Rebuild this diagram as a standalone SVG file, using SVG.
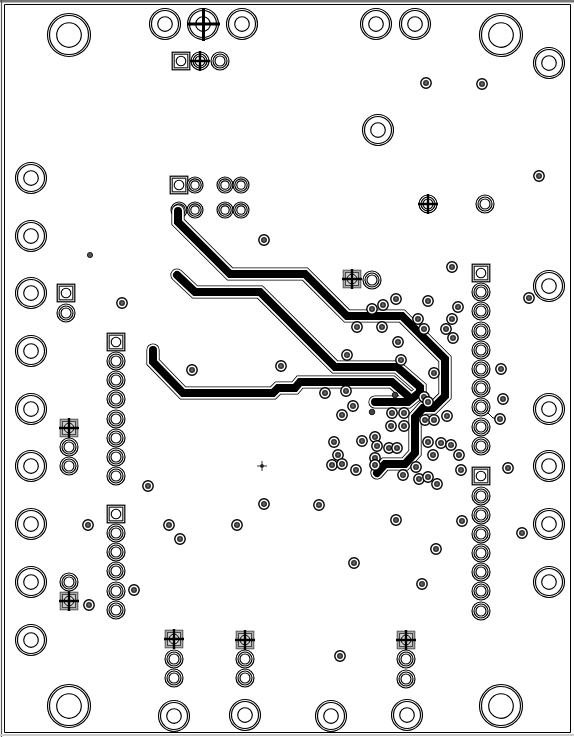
<svg xmlns="http://www.w3.org/2000/svg" xmlns:xlink="http://www.w3.org/1999/xlink" width="574" height="737" viewBox="0 0 574 737">
<style>
.r{fill:none;stroke:#000;stroke-width:1.15}
.t1{fill:none;stroke:#000;stroke-width:13.2;stroke-linejoin:miter;stroke-linecap:round}
.t2{fill:none;stroke:#fff;stroke-width:11.6;stroke-linejoin:miter;stroke-linecap:round}
.t3{fill:none;stroke:#000;stroke-width:8;stroke-linejoin:miter;stroke-linecap:round}
.c{fill:none;stroke:#000;stroke-width:2.4}
</style>
<defs>
<g id="L"><circle class="r" r="21.5"/><circle class="r" r="19.5"/><circle class="r" r="12.3"/></g>
<g id="M"><circle class="r" r="15.5"/><circle class="r" r="13.5"/><circle class="r" r="7.3"/></g>
<g id="P"><circle r="9" fill="#fff" stroke="#000" stroke-width="1.15"/><circle class="r" r="7"/><circle r="5" fill="#fff" stroke="#000" stroke-width="1.15"/></g>
<g id="Q"><circle r="8" fill="#fff" stroke="#000" stroke-width="1.15"/><circle class="r" r="6.2"/><circle r="4.2" fill="#fff" stroke="#000" stroke-width="1.15"/></g>
<g id="S"><rect x="-8.8" y="-8.8" width="17.6" height="17.6" fill="#fff" stroke="#000" stroke-width="1.2"/><rect x="-6.8" y="-6.8" width="13.6" height="13.6" fill="#fff" stroke="#222" stroke-width="1.2"/><circle r="4.8" fill="#fff" stroke="#000" stroke-width="1.1"/></g>
<g id="V"><circle r="5.2" fill="#fff" stroke="#000" stroke-width="1.4"/><circle r="3" fill="#333"/><circle r="1.4" fill="#666"/></g>
<g id="X"><rect x="-8.8" y="-8.8" width="17.6" height="17.6" fill="#aaa" stroke="#555" stroke-width="1"/><rect x="-6.5" y="-6.5" width="13" height="13" fill="#ccc" stroke="#444" stroke-width="1"/><circle r="4.8" fill="#ddd" stroke="#000" stroke-width="1"/><path class="c" d="M-10 0H10M0-10V10"/></g>
</defs>
<rect width="574" height="737" fill="#fff"/>
<g id="frame" fill="none"><path d="M0 1.2H574" stroke="#777" stroke-width="2.4"/><path d="M1.500 0V737" stroke="#555" stroke-width="1.200"/><path d="M4.500 4.500H570.500V732.500H4.500Z" stroke="#000" stroke-width="1"/><path d="M0 735H574" stroke="#ccc" stroke-width="2"/></g>
<use href="#Q" x="179" y="210"/>
<g id="connectors">
<path class="t1" d="M178 211V222L230 274H305L347 316H402L445 359V396L433 408H423L415 417V453L405 464H385L377 473"/>
<path class="t1" d="M177 275L195 292H260L335 367H397L420 387V392L408 402H375"/>
<path class="t1" d="M153 350V362L183 393H273L278 388H295L300 382H392L408 396"/>
<path class="t2" d="M178 211V222L230 274H305L347 316H402L445 359V396L433 408H423L415 417V453L405 464H385L377 473"/>
<path class="t2" d="M177 275L195 292H260L335 367H397L420 387V392L408 402H375"/>
<path class="t2" d="M153 350V362L183 393H273L278 388H295L300 382H392L408 396"/>
<path class="t3" d="M178 211V222L230 274H305L347 316H402L445 359V396L433 408H423L415 417V453L405 464H385L377 473"/>
<path class="t3" d="M177 275L195 292H260L335 367H397L420 387V392L408 402H375"/>
<path class="t3" d="M153 350V362L183 393H273L278 388H295L300 382H392L408 396"/>
<path d="M482 407L493 418H500" fill="none" stroke="#fff" stroke-width="3.4"/>
<path d="M482 407L493 418H500" fill="none" stroke="#000" stroke-width="1"/>
</g>
<g id="holes">
<use href="#L" x="69" y="35"/><use href="#L" x="501" y="35"/><use href="#L" x="69" y="706"/><use href="#L" x="501" y="706"/>
<use href="#M" x="165" y="24"/><use href="#M" x="242" y="24"/><use href="#M" x="203" y="24"/><use href="#M" x="376" y="24"/><use href="#M" x="415" y="24"/><use href="#M" x="378" y="130"/>
<use href="#M" x="549" y="63"/><use href="#M" x="549" y="286"/><use href="#M" x="549" y="409"/><use href="#M" x="549" y="466"/><use href="#M" x="549" y="524"/><use href="#M" x="549" y="582"/>
<use href="#M" x="31" y="178"/><use href="#M" x="31" y="236"/><use href="#M" x="31" y="293"/><use href="#M" x="31" y="351"/><use href="#M" x="31" y="409"/><use href="#M" x="31" y="466"/><use href="#M" x="31" y="524"/><use href="#M" x="31" y="582"/><use href="#M" x="31" y="640"/>
<use href="#M" x="174" y="716"/><use href="#M" x="245" y="715"/><use href="#M" x="331" y="716"/><use href="#M" x="407" y="715"/>
<path fill="none" stroke="#000" stroke-width="3" d="M188 24H220M203.500 8V41"/>
</g>
<g id="headers">
<use href="#S" x="481" y="273"/><use href="#P" x="481" y="292"/><use href="#P" x="481" y="311"/><use href="#P" x="481" y="331"/><use href="#P" x="481" y="350"/><use href="#P" x="481" y="369"/><use href="#P" x="481" y="388"/><use href="#P" x="481" y="407"/><use href="#P" x="481" y="427"/><use href="#P" x="481" y="446"/>
<use href="#S" x="481" y="476"/><use href="#P" x="481" y="496"/><use href="#P" x="481" y="515"/><use href="#P" x="481" y="534"/><use href="#P" x="481" y="553"/><use href="#P" x="481" y="572"/><use href="#P" x="481" y="591"/><use href="#P" x="481" y="611"/>
<use href="#S" x="116" y="342"/><use href="#P" x="116" y="361"/><use href="#P" x="116" y="380"/><use href="#P" x="116" y="399"/><use href="#P" x="116" y="419"/><use href="#P" x="116" y="438"/><use href="#P" x="116" y="457"/><use href="#P" x="116" y="476"/>
<use href="#S" x="116" y="514"/><use href="#P" x="116" y="533"/><use href="#P" x="116" y="552"/><use href="#P" x="116" y="571"/><use href="#P" x="116" y="591"/><use href="#P" x="116" y="610"/>
<use href="#S" x="66" y="293"/><use href="#P" x="66" y="313"/>
<use href="#X" x="69" y="428"/><use href="#P" x="69" y="447"/><use href="#P" x="69" y="466"/>
<use href="#P" x="69" y="582"/><use href="#X" x="69" y="601"/>
<use href="#X" x="174" y="639"/><use href="#P" x="174" y="659"/><use href="#P" x="174" y="678"/>
<use href="#X" x="245" y="640"/><use href="#P" x="245" y="659"/><use href="#P" x="245" y="678"/>
<use href="#X" x="406" y="640"/><use href="#P" x="406" y="659"/><use href="#P" x="406" y="679"/>
<use href="#X" x="352" y="279"/><use href="#P" x="372" y="280"/>
<use href="#S" x="181" y="61"/><use href="#P" x="200" y="61"/><path class="c" d="M190 61H210M200 51V71"/><use href="#P" x="220" y="61"/>
<use href="#S" x="179" y="185"/><use href="#Q" x="195" y="185"/><use href="#Q" x="225" y="185"/><use href="#Q" x="241" y="185"/>
<use href="#Q" x="195" y="210"/><use href="#Q" x="225" y="210"/><use href="#Q" x="241" y="210"/>
<use href="#P" x="485" y="204"/>
<use href="#P" x="428" y="204"/><path class="c" d="M418 204H438M428 194V214"/>
</g>
<g id="vias">
<use href="#V" x="426" y="83"/><use href="#V" x="482" y="84"/><use href="#V" x="539" y="176"/><use href="#V" x="264" y="240"/><use href="#V" x="529" y="298"/><use href="#V" x="122" y="303"/>
<use href="#V" x="452" y="267"/><use href="#V" x="396" y="299"/><use href="#V" x="383" y="305"/><use href="#V" x="372" y="309"/><use href="#V" x="428" y="301"/><use href="#V" x="458" y="307"/><use href="#V" x="452" y="319"/><use href="#V" x="418" y="319"/><use href="#V" x="424" y="329"/><use href="#V" x="446" y="329"/><use href="#V" x="453" y="338"/><use href="#V" x="357" y="327"/><use href="#V" x="382" y="327"/><use href="#V" x="398" y="342"/><use href="#V" x="347" y="355"/><use href="#V" x="401" y="360"/><use href="#V" x="434" y="373"/><use href="#V" x="501" y="369"/>
<use href="#V" x="325" y="393"/><use href="#V" x="346" y="391"/><use href="#V" x="353" y="406"/><use href="#V" x="342" y="415"/><circle cx="372" cy="412" r="2.8" fill="#444" stroke="#000" stroke-width=".8"/><circle cx="395" cy="395" r="2.8" fill="#444" stroke="#000" stroke-width=".8"/><use href="#V" x="424" y="397"/><use href="#V" x="428" y="402"/><use href="#V" x="503" y="399"/><use href="#V" x="392" y="413"/><use href="#V" x="404" y="413"/><use href="#V" x="391" y="426"/><use href="#V" x="404" y="426"/><use href="#V" x="425" y="420"/><use href="#V" x="434" y="420"/><use href="#V" x="447" y="416"/><use href="#V" x="500" y="419"/>
<use href="#V" x="334" y="442"/><use href="#V" x="362" y="441"/><use href="#V" x="375" y="437"/><use href="#V" x="377" y="446"/><use href="#V" x="389" y="448"/><use href="#V" x="397" y="448"/><use href="#V" x="428" y="442"/><use href="#V" x="441" y="443"/><use href="#V" x="451" y="445"/><use href="#V" x="433" y="455"/><use href="#V" x="459" y="455"/><use href="#V" x="338" y="455"/><use href="#V" x="332" y="465"/><use href="#V" x="342" y="464"/><use href="#V" x="375" y="458"/><use href="#V" x="375" y="465"/><use href="#V" x="356" y="470"/><use href="#V" x="416" y="467"/><use href="#V" x="461" y="470"/><use href="#V" x="508" y="468"/><use href="#V" x="403" y="475"/><use href="#V" x="419" y="479"/><use href="#V" x="428" y="477"/><use href="#V" x="437" y="484"/>
<use href="#V" x="192" y="370"/><use href="#V" x="281" y="366"/><use href="#V" x="148" y="486"/><use href="#V" x="264" y="504"/><use href="#V" x="319" y="505"/><use href="#V" x="396" y="520"/><use href="#V" x="462" y="521"/><use href="#V" x="522" y="533"/><use href="#V" x="436" y="549"/><use href="#V" x="354" y="563"/><use href="#V" x="422" y="584"/><use href="#V" x="169" y="525"/><use href="#V" x="180" y="539"/><use href="#V" x="237" y="525"/><use href="#V" x="88" y="525"/><use href="#V" x="89" y="605"/><use href="#V" x="134" y="590"/><use href="#V" x="340" y="656"/>
<circle cx="90" cy="255" r="2.6" fill="#555" stroke="#000" stroke-width=".8"/>
<circle cx="262" cy="466" r="2" fill="#555"/><path d="M257 466H267M262 461V471" stroke="#000" stroke-width=".8"/>
</g>
</svg>
